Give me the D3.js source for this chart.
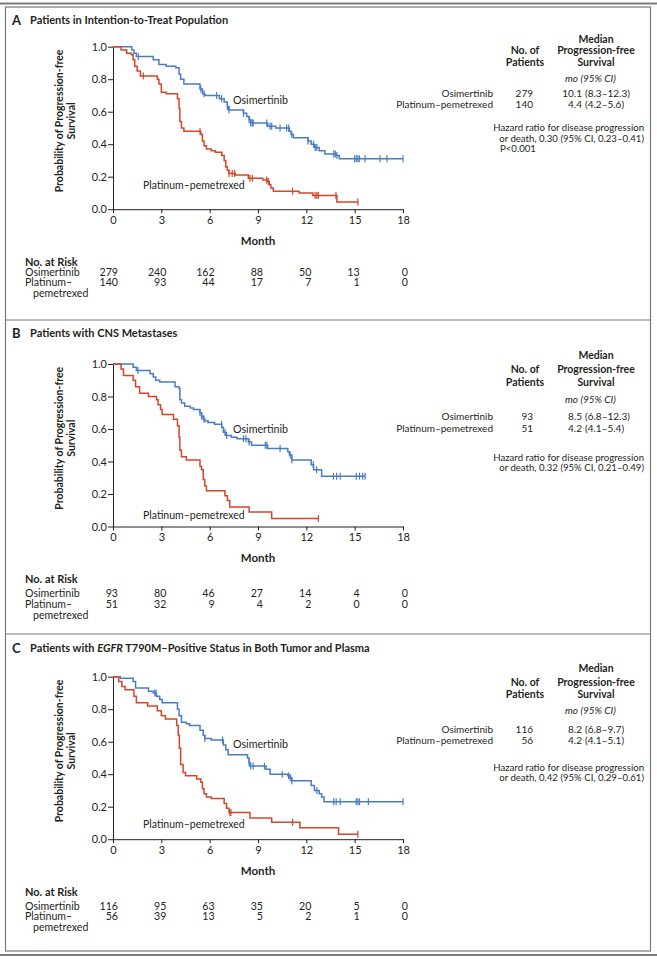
<!DOCTYPE html>
<html><head><meta charset="utf-8">
<script src="https://cdn.jsdelivr.net/npm/d3@7"></script>
<style>
body{margin:0;background:#fff}
svg{display:block}
text{font-family:Lato,"Open Sans",sans-serif;fill:#231f20}
</style>
</head><body><svg id="c" width="657" height="960"></svg>
<script>
// ---------------- DATA ----------------
const months = [0, 3, 6, 9, 12, 15, 18];
const yTicks = [0, 0.2, 0.4, 0.6, 0.8, 1.0];
const panelLetters = ["A", "B", "C"];
const groups = ["Osimertinib", "Platinum–pemetrexed"];
const nPatients = [[279, 140], [93, 51], [116, 56]];
const medianVal = [["10.1", "4.4"], ["8.5", "4.2"], ["8.2", "4.2"]];
const medianCI = [["(8.3–12.3)", "(4.2–5.6)"], ["(6.8–12.3)", "(4.1–5.4)"], ["(6.8–9.7)", "(4.1–5.1)"]];
const hazardLine2 = ["or death, 0.30 (95% CI, 0.23–0.41)", "or death, 0.32 (95% CI, 0.21–0.49)", "or death, 0.42 (95% CI, 0.29–0.61)"];
const pValue = ["P<0.001", null, null];
const atRiskOsi = [[279, 240, 162, 88, 50, 13, 0], [93, 80, 46, 27, 14, 4, 0], [116, 95, 63, 35, 20, 5, 0]];
const atRiskPlat = [[140, 93, 44, 17, 7, 1, 0], [51, 32, 9, 4, 2, 0, 0], [56, 39, 13, 5, 2, 1, 0]];

// Panel A
const osiA_t = [0,1.16,1.3,1.45,2.5,2.85,3.3,3.9,4.1,4.2,4.4,5.4,5.55,5.7,6.6,6.9,7.1,7.2,8.1,8.3,8.45,8.55,9.6,10.1,10.95,11.05,11.2,12.1,12.3,12.5,12.8,13.15,13.85,14.05,18.0];
const osiA_s = [1,0.98,0.96,0.94,0.92,0.89,0.88,0.87,0.83,0.80,0.77,0.74,0.71,0.70,0.68,0.66,0.63,0.61,0.59,0.57,0.55,0.53,0.51,0.50,0.48,0.46,0.44,0.42,0.40,0.38,0.36,0.34,0.33,0.31,0.31];
const osiA_c = [1.57,5.45,5.65,6.43,6.74,7.1,7.2,8.1,8.45,8.55,8.65,8.7,9.54,9.75,9.85,10.37,10.78,10.9,11.1,12.1,12.45,12.55,12.65,13.7,13.8,13.9,15.0,15.1,15.2,15.3,15.64,16.57,17.0,18.0];
const platA_t = [0,0.5,0.85,1.15,1.25,1.35,1.5,1.7,2.75,2.85,3.0,3.3,4.0,4.1,4.15,4.25,4.4,5.45,5.55,5.65,5.8,6.1,6.35,6.75,6.9,7.0,7.1,7.2,7.6,8.4,9.3,9.6,9.7,9.8,9.95,11.55,12.4,13.9,15.2];
const platA_s = [1,0.98,0.96,0.95,0.92,0.88,0.85,0.82,0.80,0.77,0.72,0.71,0.68,0.62,0.54,0.50,0.48,0.46,0.42,0.39,0.37,0.36,0.35,0.33,0.30,0.26,0.24,0.22,0.21,0.19,0.18,0.17,0.15,0.13,0.11,0.10,0.085,0.045,0.045];
const platA_c = [1.88,5.4,7.2,7.4,7.55,8.5,8.65,9.54,9.64,11.15,12.54,12.65,12.75,13.84,15.2];

// Panel B
const osiB_t = [0,1.25,1.45,2.3,2.5,2.65,2.9,3.85,4.1,4.15,4.25,4.45,4.8,5.0,5.4,5.5,5.6,5.7,5.9,6.3,6.75,6.85,7.0,7.35,7.7,8.4,8.6,9.6,10.85,10.95,11.1,12.3,12.45,12.95,15.65];
const osiB_s = [1,0.98,0.96,0.94,0.92,0.90,0.89,0.86,0.85,0.78,0.76,0.74,0.73,0.72,0.70,0.68,0.66,0.65,0.64,0.63,0.61,0.58,0.56,0.55,0.54,0.52,0.50,0.48,0.46,0.44,0.41,0.38,0.35,0.31,0.31];
const osiB_c = [1.55,5.4,5.5,5.65,6.74,6.95,7.05,8.1,8.25,8.45,9.45,9.55,10.37,11.0,11.1,12.43,12.64,13.68,13.88,14.1,15.1,15.3,15.5,15.65];
const platB_t = [0,0.5,0.65,1.25,1.4,1.65,2.2,2.7,2.8,2.95,3.05,3.75,4.0,4.1,4.15,4.25,4.55,5.4,5.5,5.6,5.7,5.8,6.95,7.1,7.25,8.45,9.85,12.75];
const platB_s = [1,0.97,0.93,0.90,0.86,0.82,0.80,0.78,0.75,0.72,0.69,0.66,0.62,0.55,0.47,0.43,0.41,0.37,0.35,0.29,0.25,0.22,0.19,0.16,0.12,0.09,0.05,0.05];
const platB_c = [12.75];

// Panel C
const osiC_t = [0,0.45,1.25,1.4,2.2,2.5,2.7,2.9,3.05,4.0,4.1,4.25,4.55,4.75,5.4,5.6,5.7,6.1,6.85,7.0,7.15,8.35,8.45,8.5,9.5,9.75,10.85,10.95,11.1,12.3,12.5,12.8,12.95,13.1,18.0];
const osiC_s = [1,0.99,0.97,0.93,0.91,0.90,0.88,0.86,0.84,0.80,0.76,0.72,0.71,0.70,0.67,0.64,0.62,0.61,0.58,0.55,0.52,0.50,0.47,0.45,0.43,0.40,0.39,0.38,0.36,0.33,0.30,0.28,0.26,0.23,0.23];
const osiC_c = [2.6,2.67,5.7,6.8,8.45,8.55,8.7,9.4,10.5,10.9,11.0,11.1,12.65,13.7,13.85,14.1,15.1,15.2,15.3,15.85,18.0];
const platC_t = [0,0.35,0.55,0.75,1.3,1.45,2.15,2.75,3.0,3.25,3.95,4.05,4.12,4.2,4.35,4.5,5.2,5.45,5.55,5.65,5.8,6.1,6.9,7.05,7.2,8.5,9.85,11.6,14.0,15.2];
const platC_s = [1,0.97,0.94,0.92,0.88,0.84,0.82,0.79,0.76,0.74,0.70,0.64,0.56,0.46,0.41,0.39,0.37,0.35,0.31,0.28,0.26,0.25,0.22,0.19,0.165,0.13,0.105,0.07,0.03,0.03];
const platC_c = [7.25,7.32,11.15,15.2];

const curves = [
  [{t: osiA_t, s: osiA_s, c: osiA_c}, {t: platA_t, s: platA_s, c: platA_c}],
  [{t: osiB_t, s: osiB_s, c: osiB_c}, {t: platB_t, s: platB_s, c: platB_c}],
  [{t: osiC_t, s: osiC_s, c: osiC_c}, {t: platC_t, s: platC_s, c: platC_c}]
];

// ---------------- LAYOUT ----------------
const colors = ["#4a7cc4", "#d4452a"];
const plotTop = [46.7, 364, 676.7];
const plotH = 162.5;
const xLeft = 113, xRight = 403;
const blockOff = [
  [-7.4, 4, 15.6, 31.6, 47, 58, 80.6, 91.6, 102.3],
  [-9, 5.3, 18.3, 35, 52.7, 64.3, 93.3, 103.8],
  [-8.4, 6, 17.6, 34, 53, 64, 90.6, 101.2]
];
const riskOff = [[52.5, 63, 73.5, 84.5], [52.7, 66.7, 78, 89.2], [53, 67, 77.5, 88.5]];
const titleY = [20, 333, 648];
const osiLabY = [0.668, 0.597, 0.583];
const platLabY = [0.15, 0.07, 0.093];

const svg = d3.select("#c");

// frame
const frame = svg.append("g").attr("fill", "none").attr("stroke", "#7a7a7a");
frame.append("line").attr("x1", 0).attr("x2", 657).attr("y1", 3.5).attr("y2", 3.5).attr("stroke-width", 2);
frame.append("line").attr("x1", 0).attr("x2", 657).attr("y1", 955).attr("y2", 955).attr("stroke-width", 2);
frame.append("rect").attr("x", 5.5).attr("y", 7).attr("width", 645).attr("height", 944).attr("stroke-width", 1.2);
[320, 634].forEach(y => frame.append("line").attr("x1", 5.5).attr("x2", 650.5).attr("y1", y).attr("y2", y).attr("stroke-width", 1.2));

const x = d3.scaleLinear().domain([0, 18]).range([xLeft, xRight]);

panelLetters.forEach((letter, p) => {
  const top = plotTop[p], bottom = top + plotH;
  const y = d3.scaleLinear().domain([0, 1]).range([bottom, top]);
  const g = svg.append("g");

  // title
  g.append("text").attr("x", 12).attr("y", titleY[p]).attr("dy", "0.35em")
    .attr("font-weight", 700).attr("font-size", 13).text(letter);
  const tt2 = g.append("text").attr("x", 30).attr("y", titleY[p]).attr("dy", "0.35em")
    .attr("font-weight", 700).attr("font-size", 11);
  if (p === 0) tt2.text("Patients in Intention-to-Treat Population");
  if (p === 1) tt2.text("Patients with CNS Metastases");
  if (p === 2) {
    tt2.append("tspan").text("Patients with ");
    tt2.append("tspan").attr("font-style", "italic").text("EGFR");
    tt2.append("tspan").text(" T790M–Positive Status in Both Tumor and Plasma");
  }

  // axes
  const xa = g.append("g").attr("transform", `translate(0,${bottom})`)
    .call(d3.axisBottom(x).tickValues(months).tickSize(4).tickSizeOuter(0).tickFormat(d3.format("d")));
  const ya = g.append("g").attr("transform", `translate(${xLeft},0)`)
    .call(d3.axisLeft(y).tickValues(yTicks).tickSize(5).tickSizeOuter(0).tickFormat(d3.format(".1f")));
  [xa, ya].forEach(a => {
    a.select(".domain").attr("stroke", "#231f20");
    a.selectAll(".tick line").attr("stroke", "#231f20");
    a.selectAll("text").attr("font-size", 11).attr("font-family", "Lato").attr("fill", "#231f20");
  });
  xa.selectAll("text").attr("dy", "0.9em").attr("y", 5);
  ya.selectAll("text").attr("x", -6);

  // axis titles
  g.append("text").attr("x", x(9)).attr("y", bottom + 31.5).attr("dy", "0.35em").attr("text-anchor", "middle")
    .attr("font-weight", 700).attr("font-size", 11.5).text("Month");
  const midY = (top + bottom) / 2 - 7;
  g.append("text").attr("transform", `translate(59,${midY}) rotate(-90)`).attr("dy", "0.35em")
    .attr("text-anchor", "middle").attr("font-weight", 700).attr("font-size", 10.5).text("Probability of Progression-free");
  g.append("text").attr("transform", `translate(71,${midY}) rotate(-90)`).attr("dy", "0.35em")
    .attr("text-anchor", "middle").attr("font-weight", 700).attr("font-size", 10.5).text("Survival");

  // curves
  curves[p].forEach((cv, i) => {
    const pts = cv.t.map((t, k) => [t, cv.s[k]]);
    const line = d3.line().x(d => x(d[0])).y(d => y(d[1])).curve(d3.curveStepAfter);
    g.append("path").attr("d", line(pts)).attr("fill", "none").attr("stroke", colors[i]).attr("stroke-width", 1.5);
    const survAt = t => { let v = 1; cv.t.forEach((tt, k) => { if (tt <= t + 1e-9) v = cv.s[k]; }); return v; };
    g.selectAll(null).data(cv.c).join("line")
      .attr("x1", d => x(d)).attr("x2", d => x(d))
      .attr("y1", d => y(survAt(d)) - 3.5).attr("y2", d => y(survAt(d)) + 3.5)
      .attr("stroke", colors[i]).attr("stroke-width", 1.2);
  });

  // curve labels
  g.append("text").attr("x", 233).attr("y", y(osiLabY[p])).attr("dy", "0.35em").attr("font-size", 10.7).text(groups[0]);
  g.append("text").attr("x", 143).attr("y", y(platLabY[p])).attr("dy", "0.35em").attr("font-size", 10.5).text(groups[1]);

  // right block
  const o = blockOff[p];
  const R = g.append("g").attr("font-size", 10);
  const cMed = 596, cN = 525;
  const hdr = (xx, yy, t) => R.append("text").attr("x", xx).attr("y", yy).attr("dy", "0.35em")
    .attr("text-anchor", "middle").attr("font-weight", 700).attr("font-size", 10.5).text(t);
  hdr(cMed, top + o[0], "Median");
  hdr(cN, top + o[1], "No. of");
  hdr(cMed, top + o[1], "Progression-free");
  hdr(cN, top + o[2], "Patients");
  hdr(cMed, top + o[2], "Survival");
  R.append("text").attr("x", 565).attr("y", top + o[3]).attr("dy", "0.35em").attr("font-style", "italic").text("mo (95% CI)");
  [0, 1].forEach(i => {
    const yy = top + o[4 + i];
    R.append("text").attr("x", 493).attr("y", yy).attr("dy", "0.35em").attr("text-anchor", "end").text(groups[i]);
    R.append("text").attr("x", 533).attr("y", yy).attr("dy", "0.35em").attr("text-anchor", "end").text(nPatients[p][i]);
    R.append("text").attr("x", 582).attr("y", yy).attr("dy", "0.35em").attr("text-anchor", "end").text(medianVal[p][i]);
    R.append("text").attr("x", 585).attr("y", yy).attr("dy", "0.35em").text(medianCI[p][i]);
  });
  R.append("text").attr("x", 644).attr("y", top + o[6]).attr("dy", "0.35em").attr("text-anchor", "end").attr("font-size", 9.6).text("Hazard ratio for disease progression");
  R.append("text").attr("x", 644).attr("y", top + o[7]).attr("dy", "0.35em").attr("text-anchor", "end").attr("font-size", 9.6).text(hazardLine2[p]);
  if (pValue[p]) R.append("text").attr("x", 500).attr("y", top + o[8]).attr("dy", "0.35em").attr("font-size", 9.6).text(pValue[p]);

  // at risk
  const ro = riskOff[p];
  const A = g.append("g").attr("font-size", 10.6);
  A.append("text").attr("x", 25).attr("y", bottom + ro[0]).attr("dy", "0.35em").attr("font-weight", 700).attr("font-size", 11).text("No. at Risk");
  A.append("text").attr("x", 25).attr("y", bottom + ro[1]).attr("dy", "0.35em").text("Osimertinib");
  A.append("text").attr("x", 25).attr("y", bottom + ro[2]).attr("dy", "0.35em").text("Platinum–");
  A.append("text").attr("x", 33).attr("y", bottom + ro[3]).attr("dy", "0.35em").text("pemetrexed");
  A.selectAll(null).data(atRiskOsi[p].map((v, k) => [months[k], v])).join("text")
    .attr("x", d => x(d[0]) + 5).attr("y", bottom + ro[1]).attr("dy", "0.35em").attr("text-anchor", "end").text(d => d[1]);
  A.selectAll(null).data(atRiskPlat[p].map((v, k) => [months[k], v])).join("text")
    .attr("x", d => x(d[0]) + 5).attr("y", bottom + ro[2]).attr("dy", "0.35em").attr("text-anchor", "end").text(d => d[1]);
});
</script></body></html>
